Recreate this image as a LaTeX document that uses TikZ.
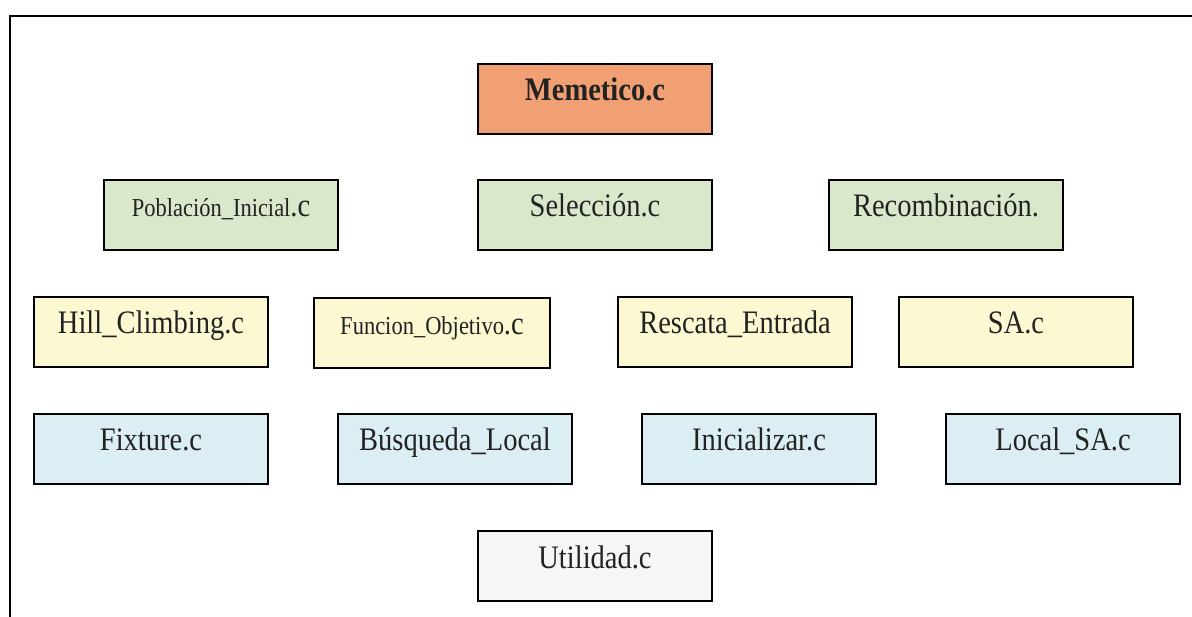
\documentclass[tikz,border=0pt]{standalone}
\usepackage{graphicx}
\usepackage{fontspec}
\setmainfont{Liberation Serif}
\definecolor{cOrange}{HTML}{F0A073}
\definecolor{cGreen}{HTML}{D9E8CB}
\definecolor{cYellow}{HTML}{FCF8D2}
\definecolor{cBlue}{HTML}{DBEEF3}
\definecolor{cGray}{HTML}{F5F6F8}
\definecolor{cText}{HTML}{222222}
\tikzset{
  modbox/.style={draw=black, line width=2pt, rectangle, anchor=north west,
    minimum width=234pt, inner xsep=0pt, inner ysep=0pt,
    text height=37pt, text depth=33pt, text=cText,
    font=\fontsize{28.5}{30}\selectfont},
  frameline/.style={line width=2.2pt, black}
}
\newcommand{\tall}[1]{\scalebox{1}[1.15]{#1}}
\newcommand{\smalltxt}[1]{{\fontsize{22.5}{24}\selectfont #1}}
\begin{document}
\begin{tikzpicture}[x=1pt,y=-1pt]
\useasboundingbox (0,0) rectangle (1192,617);
\coordinate (fc) at (10,16);
\coordinate (fr) at (1192,16);
\coordinate (fb) at (10,617);
\draw[frameline] (fr) -- (fc) -- (fb);
% row 1
\node[modbox, fill=cOrange, font=\fontsize{28.5}{30}\selectfont\bfseries] (mem) at (477,63) {\tall{Memetico.c}};
% row 2
\node[modbox, fill=cGreen] (pob) at (103,179) {\tall{\smalltxt{Población\_Inicial}.c}};
\node[modbox, fill=cGreen] (sel) at (477,179) {\tall{Selección.c}};
\node[modbox, fill=cGreen] (rec) at (828,179) {\tall{Recombinación.}};
% row 3
\node[modbox, fill=cYellow] (hill) at (33,296) {\tall{Hill\_Climbing.c}};
\node[modbox, fill=cYellow, minimum width=236pt] (fobj) at (313,297) {\tall{\smalltxt{Funcion\_Objetivo}.c}};
\node[modbox, fill=cYellow] (resc) at (617,296) {\tall{Rescata\_Entrada}};
\node[modbox, fill=cYellow] (sa) at (898,296) {\tall{SA.c}};
% row 4
\node[modbox, fill=cBlue] (fix) at (33,413) {\tall{Fixture.c}};
\node[modbox, fill=cBlue] (bus) at (337,413) {\tall{Búsqueda\_Local}};
\node[modbox, fill=cBlue] (ini) at (641,413) {\tall{Inicializar.c}};
\node[modbox, fill=cBlue] (lsa) at (945,413) {\tall{Local\_SA.c}};
% row 5
\node[modbox, fill=cGray] (uti) at (477,530) {\tall{Utilidad.c}};
\end{tikzpicture}
\end{document}
